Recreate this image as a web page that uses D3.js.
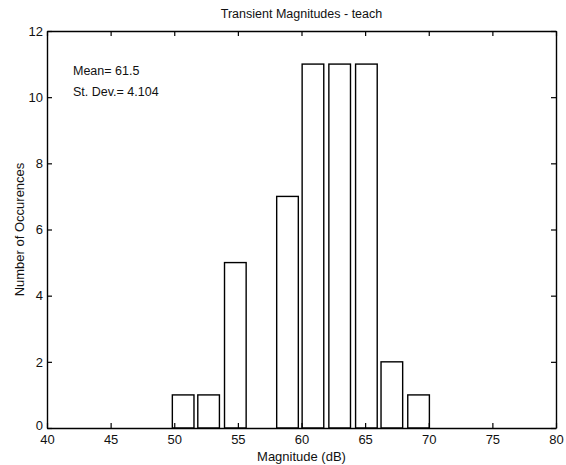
<!DOCTYPE html>
<html>
<head>
<meta charset="utf-8">
<script src="https://cdn.jsdelivr.net/npm/d3@7"></script>
<style>
  body { margin: 0; background: #fff; }
  text { font-family: "Liberation Sans", Arial, sans-serif; fill: #111; }
</style>
</head>
<body>
<script>
// histogram data
var binCenters = [50.7, 52.7, 54.8, 56.8, 58.9, 60.9, 63.0, 65.1, 67.1, 69.2];
var counts     = [1, 1, 5, 0, 7, 11, 11, 11, 2, 1];
var xTicks = [40, 45, 50, 55, 60, 65, 70, 75, 80];
var yTicks = [0, 2, 4, 6, 8, 10, 12];
var statLines = ["Mean= 61.5", "St. Dev.= 4.104"];

var W = 566, H = 465;
var margin = {top: 31, right: 10, bottom: 37, left: 47};
var width = W - margin.left - margin.right;
var height = H - margin.top - margin.bottom;
var barW = 1.7; // data units

var svg = d3.select("body").append("svg")
    .attr("width", W)
    .attr("height", H);

var g = svg.append("g")
    .attr("transform", "translate(" + margin.left + "," + margin.top + ")");

var x = d3.scaleLinear().domain([40, 80]).range([0, width]);
var y = d3.scaleLinear().domain([0, 12]).range([height, 0]);

// bars
var data = binCenters.map(function(c, i) { return {c: c, n: counts[i]}; });
g.selectAll("rect.bar").data(data.filter(function(d) { return d.n > 0; }))
  .enter().append("rect")
    .attr("class", "bar")
    .attr("x", function(d) { return x(d.c - barW / 2); })
    .attr("width", function(d) { return x(d.c + barW / 2) - x(d.c - barW / 2); })
    .attr("y", function(d) { return y(d.n); })
    .attr("height", function(d) { return y(0) - y(d.n); })
    .attr("fill", "#fff")
    .attr("stroke", "#000")
    .attr("stroke-width", 1.4);

// axes, ticks inward like matlab
var tl = 5;
g.append("g").attr("transform", "translate(0," + height + ")")
  .call(d3.axisBottom(x).tickValues(xTicks).tickSizeInner(-tl).tickSizeOuter(0).tickPadding(7));
g.append("g")
  .call(d3.axisTop(x).tickValues(xTicks).tickSizeInner(-tl).tickSizeOuter(0).tickFormat(""));
var yAx = g.append("g")
  .call(d3.axisLeft(y).tickValues(yTicks).tickSizeInner(-tl).tickSizeOuter(0).tickPadding(4));
g.append("g").attr("transform", "translate(" + width + ",0)")
  .call(d3.axisRight(y).tickValues(yTicks).tickSizeInner(-tl).tickSizeOuter(0).tickFormat(""));

g.selectAll(".domain").attr("stroke", "#000").attr("stroke-width", 1.4);
g.selectAll(".tick line").attr("stroke", "#000").attr("stroke-width", 1.2);
g.selectAll(".tick text").style("font-size", "13px").attr("fill", "#111");
// lift the 0 label a little so it clears the 40 below it
yAx.selectAll(".tick text").filter(function(d) { return d === 0; }).attr("dy", "0.1em");

// title and labels
svg.append("text")
    .attr("x", margin.left + width / 2).attr("y", 18)
    .attr("text-anchor", "middle")
    .style("font-size", "12.5px")
    .text("Transient Magnitudes - teach");

svg.append("text")
    .attr("x", margin.left + width / 2).attr("y", 461)
    .attr("text-anchor", "middle")
    .style("font-size", "13px")
    .text("Magnitude (dB)");

svg.append("text")
    .attr("transform", "translate(24," + (margin.top + height / 2) + ") rotate(-90)")
    .attr("text-anchor", "middle")
    .style("font-size", "13px")
    .text("Number of Occurences");

g.selectAll("text.stat").data(statLines)
  .enter().append("text")
    .attr("class", "stat")
    .attr("x", 26)
    .attr("y", function(d, i) { return 44 + i * 21; })
    .style("font-size", "12.5px")
    .text(function(d) { return d; });
</script>
</body>
</html>
